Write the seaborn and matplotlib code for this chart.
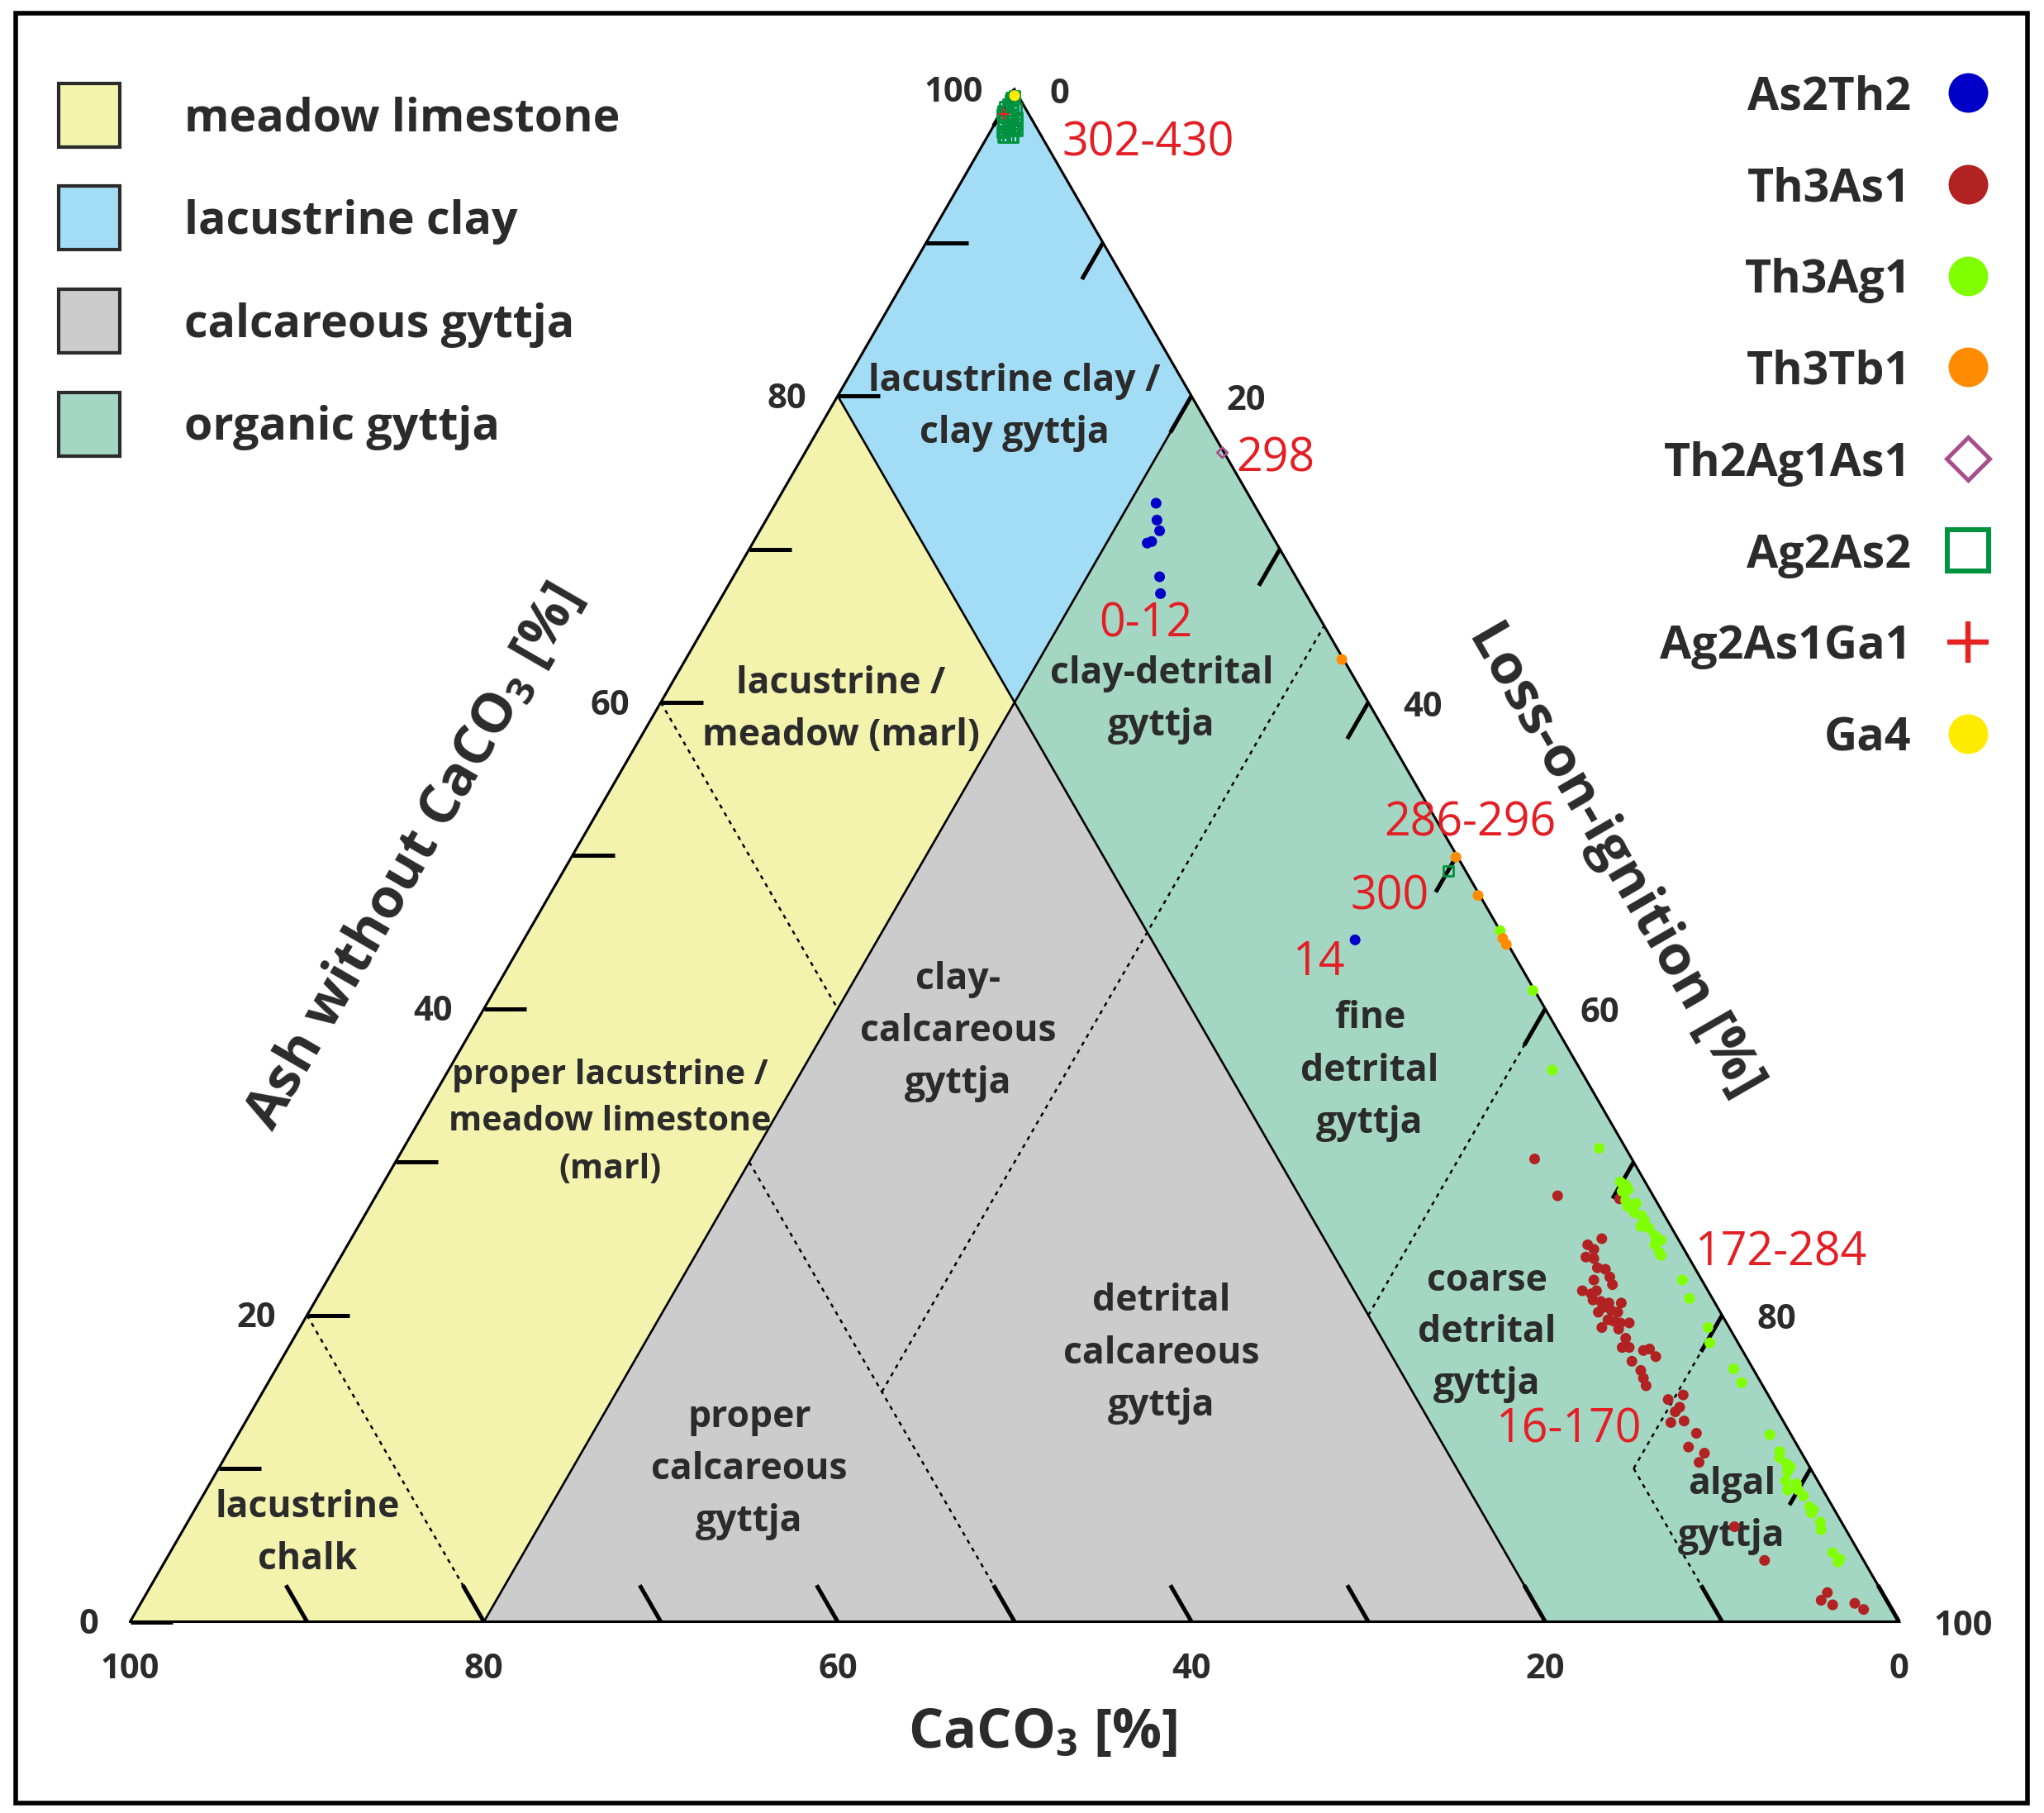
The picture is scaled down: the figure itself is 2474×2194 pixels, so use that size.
import numpy as np
import pandas as pd
import matplotlib
matplotlib.use("Agg")
import matplotlib.pyplot as plt
import seaborn as sns
from matplotlib.patches import Polygon, Rectangle

sns.set_theme(style="white")
plt.rcParams["font.family"] = ["Open Sans", "DejaVu Sans"]
plt.rcParams["mathtext.fontset"] = "custom"
plt.rcParams["mathtext.rm"] = "Open Sans:bold"
plt.rcParams["mathtext.bf"] = "Open Sans:bold"
plt.rcParams["mathtext.it"] = "Open Sans:bold"

# ---------------- data (loss-on-ignition %, CaCO3 %; ash = rest) ----------------
series_names = ["As2Th2", "Th3As1", "Th3Ag1", "Th3Tb1", "Th2Ag1As1", "Ag2As2", "Ag2As1Ga1", "Ga4"]

as2th2_loi = [21.5, 22.1, 22.6, 22.5, 22.3, 24.1, 24.7, 47.0]
as2th2_caco3 = [5.5, 6.0, 6.2, 7.0, 7.3, 7.7, 8.2, 8.5]

th3as1_loi = [64.3, 66.8, 70.4, 70.7, 70.1, 70.6, 70.4, 70.9, 71.4, 71.9,
              71.6, 72.4, 72.8, 71.3, 71.9, 72.1, 72.2, 72.7, 73.2, 73.0,
              73.6, 73.9, 72.9, 74.0, 73.7, 74.1, 74.5, 75.0, 73.6, 74.6,
              75.3, 75.4, 75.8, 76.7, 77.0, 77.6, 76.4, 77.2, 77.6, 78.0,
              80.4, 79.7, 80.6, 80.5, 81.3, 80.6, 82.4, 82.4, 83.5, 83.5,
              87.6, 90.4, 95.0, 94.9, 95.7, 96.9, 97.6]
th3as1_caco3 = [5.5, 5.4, 2.0, 4.3, 5.3, 5.1, 5.8, 5.4, 5.5, 5.1,
                6.1, 5.1, 5.2, 7.1, 6.7, 6.3, 6.8, 6.4, 6.0, 6.5,
                6.1, 5.3, 6.9, 5.8, 6.6, 6.3, 6.0, 5.5, 7.2, 6.3,
                6.2, 6.7, 6.3, 5.6, 5.2, 5.1, 6.6, 6.4, 6.5, 6.6,
                4.8, 5.8, 5.4, 5.8, 5.6, 6.4, 5.3, 6.2, 5.5, 6.1,
                6.2, 5.6, 3.1, 3.7, 3.2, 1.9, 1.6]

th3ag1_loi = [54.9, 58.7, 62.4, 67.6, 69.9, 70.3, 70.6, 70.3, 70.8, 71.1,
              71.5, 71.7, 72.2, 72.5, 72.5, 73.0, 73.6, 74.1, 73.9, 74.4,
              74.6, 76.6, 77.6, 79.6, 80.2, 82.4, 83.3, 86.6, 87.7, 87.9,
              88.5, 88.8, 88.8, 89.0, 89.7, 89.4, 90.0, 90.5, 91.2, 91.5,
              91.5, 92.3, 92.6, 94.0, 94.6, 94.6]
th3ag1_caco3 = [0.0, 0.1, 1.6, 1.5, 1.4, 1.2, 1.2, 1.6, 1.7, 1.8,
                1.2, 1.6, 1.3, 1.3, 1.7, 1.3, 1.2, 1.0, 1.5, 1.5,
                1.5, 1.1, 1.3, 1.2, 1.6, 1.1, 1.1, 1.2, 1.2, 1.4,
                1.2, 1.1, 1.4, 1.8, 1.3, 2.0, 1.4, 1.3, 1.3, 1.2,
                1.4, 1.2, 1.4, 1.5, 1.3, 1.5]

th3tb1_loi = [37.1, 50.0, 52.5, 55.3, 55.7]
th3tb1_caco3 = [0.1, 0.1, 0.1, 0.1, 0.1]

th2ag1as1_loi = [23.6]
th2ag1as1_caco3 = [0.1]

ag2as2_loi = [0.2, 0.1, 0.0, 0.1, 0.5, 0.7, 1.0, 1.4, 1.3, 1.1, 0.7, 0.6, 1.0,
              0.17, 0.07, 0.10, 0.38, 0.04, 0.32, 0.60, 0.26, 0.54, 0.82, 1.05,
              0.47, 0.75, 1.03, 1.26, 0.69, 0.97, 1.25, 1.48, 0.90, 1.18, 1.46,
              50.0]
ag2as2_caco3 = [0.2, 0.6, 1.1, 1.5, 1.8, 2.1, 2.1, 1.7, 1.3, 0.9, 0.5, 1.1, 1.6,
                0.35, 0.45, 0.85, 0.57, 1.34, 1.06, 0.78, 1.55, 1.27, 0.99, 0.76,
                1.77, 1.49, 1.21, 0.98, 1.99, 1.71, 1.43, 1.20, 2.21, 1.93, 1.65,
                1.0]

ag2as1ga1_loi = [0.2]
ag2as1ga1_caco3 = [1.4]

ga4_loi = [0.2]
ga4_caco3 = [0.2]

loi_data = [as2th2_loi, th3as1_loi, th3ag1_loi, th3tb1_loi, th2ag1as1_loi,
            ag2as2_loi, ag2as1ga1_loi, ga4_loi]
caco3_data = [as2th2_caco3, th3as1_caco3, th3ag1_caco3, th3tb1_caco3, th2ag1as1_caco3,
              ag2as2_caco3, ag2as1ga1_caco3, ga4_caco3]

sample_labels = ["302-430", "298", "0-12", "286-296", "300", "14", "172-284", "16-170"]

region_names = ["meadow limestone", "lacustrine clay", "calcareous gyttja", "organic gyttja"]
# region polygons in (CaCO3, LOI)
region_vertices = [
    [(100, 0), (80, 20), (20, 20), (20, 0)],
    [(20, 0), (20, 20), (0, 20), (0, 0)],
    [(80, 20), (20, 80), (20, 20)],
    [(20, 20), (20, 80), (0, 100), (0, 20)],
]
solid_bounds = [[(80, 20), (0, 20)], [(20, 0), (20, 80)]]
dotted_bounds = [[(80, 0), (80, 20)], [(40, 0), (40, 20)], [(50, 20), (50, 50)],
                 [(50, 35), (0, 35)], [(20, 60), (0, 60)], [(10, 80), (0, 80)],
                 [(10, 80), (10, 90)]]

tick_values = [0, 10, 20, 30, 40, 50, 60, 70, 80, 90]
label_values = [0, 20, 40, 60, 80, 100]

# ---------------- styles ----------------
region_colors = ["#F3F3AE", "#A3DCF5", "#CBCCCB", "#A4D7C3"]
series_style = {
    "As2Th2":    dict(c="#0000C8", m="o", filled=True, s=88),
    "Th3As1":    dict(c="#B22222", m="o", filled=True, s=88),
    "Th3Ag1":    dict(c="#80FF00", m="o", filled=True, s=88),
    "Th3Tb1":    dict(c="#FF8C00", m="o", filled=True, s=88),
    "Th2Ag1As1": dict(c="#A94E8C", m="D", filled=False, s=40),
    "Ag2As2":    dict(c="#00923F", m="s", filled=False, s=75),
    "Ag2As1Ga1": dict(c="#E52421", m="+", filled=False, s=110),
    "Ga4":       dict(c="#FFEB00", m="o", filled=True, s=88),
}
TXT = "#2B2B2B"
RED = "#E31E24"

W, H, DPI = 2474, 2194, 100
X0, X1, YB = 157.5, 2298.5, 1962.5
UNIT = (X1 - X0) / 100.0
SQ3 = np.sqrt(3) / 2


def tern(caco3, loi):
    caco3 = np.asarray(caco3, float)
    loi = np.asarray(loi, float)
    ash = 100.0 - caco3 - loi
    return loi + ash / 2.0, ash * SQ3


def px(xp, yp):
    return (xp - X0) / UNIT, (YB - yp) / UNIT


def pl(n):  # pixels -> data length
    return n / UNIT


fig = plt.figure(figsize=(W / DPI, H / DPI), dpi=DPI)
ax = fig.add_axes([0, 0, 1, 1])

# regions
for verts, col in zip(region_vertices, region_colors):
    c, l = zip(*verts)
    x, y = tern(c, l)
    ax.add_patch(Polygon(np.column_stack([x, y]), closed=True, fc=col, ec="none", zorder=1))

for seg in solid_bounds:
    c, l = zip(*seg)
    x, y = tern(c, l)
    ax.plot(x, y, color="black", lw=1.9, zorder=2, solid_capstyle="butt")
for seg in dotted_bounds:
    c, l = zip(*seg)
    x, y = tern(c, l)
    ax.plot(x, y, color="black", lw=1.8, ls=(0, (2.0, 2.4)), zorder=2)

# outline
x, y = tern([100, 0, 0, 100], [0, 100, 0, 0])
ax.plot(x, y, color="black", lw=2.2, zorder=3, solid_joinstyle="miter")

# ticks
TL = pl(51)
for v in tick_values:
    xs, ys = tern(100 - v, 0)
    ax.plot([xs, xs + TL], [ys, ys], color="black", lw=3.6, zorder=3, solid_capstyle="butt")
    xs, ys = tern(v, 100 - v)
    ax.plot([xs, xs - 0.5 * TL], [ys, ys + SQ3 * TL], color="black", lw=3.6, zorder=3,
            solid_capstyle="butt")
    xs, ys = tern(0, v)
    ax.plot([xs, xs - 0.5 * TL], [ys, ys - SQ3 * TL], color="black", lw=3.6, zorder=3,
            solid_capstyle="butt")

tick_font = dict(fontsize=30, fontweight="bold", color=TXT)
for v in label_values:
    xs, ys = tern(100 - v, 0)
    ax.text(xs - pl(38), ys - pl(4), str(v), ha="right", va="center", **tick_font)
    xs, ys = tern(v, 100 - v)
    ax.text(xs, ys - pl(58), str(v), ha="center", va="center", **tick_font)
    xs, ys = tern(0, v)
    ax.text(xs + pl(42), ys - pl(6), str(v), ha="left", va="center", **tick_font)

# region labels
region_labels = [
    ("lacustrine clay /\nclay gyttja", 1228, 489, 63, 32),
    ("lacustrine /\nmeadow (marl)", 1018, 855, 63, 32),
    ("clay-detrital\ngyttja", 1406, 843, 63, 32),
    ("clay-\ncalcareous\ngyttja", 1160, 1245, 63, 32),
    ("proper lacustrine /\nmeadow limestone\n(marl)", 738, 1354, 57, 29.5),
    ("fine\ndetrital\ngyttja", 1658, 1292, 63, 32),
    ("lacustrine\nchalk", 372, 1852, 63, 32),
    ("proper\ncalcareous\ngyttja", 907, 1775, 63, 32),
    ("detrital\ncalcareous\ngyttja", 1406, 1634, 63, 32),
    ("coarse\ndetrital\ngyttja", 1800, 1609, 63, 32),
    ("algal\ngyttja", 2096, 1824, 63, 32),
]
for txt, xp, yp, gap, fs in region_labels:
    lines = txt.split("\n")
    n = len(lines)
    for i, line in enumerate(lines):
        yy = yp + (i - (n - 1) / 2) * gap + 4
        ax.text(*px(xp, yy), line, ha="center", va="center", fontsize=fs,
                fontweight="bold", color=TXT, zorder=5)

# data points
for name, loi, cc in zip(series_names, loi_data, caco3_data):
    st = series_style[name]
    xs, ys = tern(cc, loi)
    df = pd.DataFrame({"x": xs, "y": ys})
    if st["filled"]:
        sns.scatterplot(data=df, x="x", y="y", ax=ax, marker=st["m"], s=st["s"],
                        color=st["c"], edgecolor="none", linewidth=0, zorder=6, legend=False)
    elif st["m"] == "+":
        sns.scatterplot(data=df, x="x", y="y", ax=ax, marker="+", s=st["s"],
                        color=st["c"], linewidth=1.6, zorder=6, legend=False)
    else:
        sns.scatterplot(data=df, x="x", y="y", ax=ax, marker=st["m"], s=st["s"],
                        color=st["c"], facecolor="none", edgecolor=st["c"],
                        linewidth=2.0, zorder=6, legend=False)
ax.set_xlabel("")
ax.set_ylabel("")
ax.set_xlim(px(0, 0)[0], px(W, 0)[0])
ax.set_ylim(px(0, H)[1], px(0, 0)[1])
ax.set_aspect("equal")
ax.axis("off")

# sample-range annotations
ann_pos = [(1286, 168), (1496, 550), (1330, 750), (1675, 991), (1635, 1080),
           (1564, 1160), (2051, 1511), (1810, 1725)]
for lab, (xp, yp) in zip(sample_labels, ann_pos):
    ax.text(*px(xp, yp + 6), lab, ha="left", va="center", fontsize=40, color=RED, zorder=7)

# axis titles
ax.text(*px(501, 1038), "Ash without CaCO$_3$ [%]", rotation=60, ha="center", va="center",
        fontsize=48, fontweight="bold", color=TXT, rotation_mode="anchor")
ax.text(*px(1956, 1040), "Loss-on-ignition [%]", rotation=-60, ha="center", va="center",
        fontsize=48, fontweight="bold", color=TXT, rotation_mode="anchor")
ax.text(*px(1262, 2098), "CaCO$_3$ [%]", ha="center", va="center",
        fontsize=48, fontweight="bold", color=TXT)

# left legend (region colours)
for i, (nm, col) in enumerate(zip(region_names, region_colors)):
    top = 101 + 124.5 * i
    x0, y0 = px(71, top + 77)
    ax.add_patch(Rectangle((x0, y0), pl(74), pl(77), fc=col, ec="#2B2B2B", lw=3,
                           zorder=8, clip_on=False))
    ax.text(*px(223, top + 43), nm, ha="left", va="center", fontsize=40,
            fontweight="bold", color=TXT, zorder=8)

# right legend (series)
for i, name in enumerate(series_names):
    st = series_style[name]
    yp = 112 + 110.8 * i
    ax.text(*px(2313, yp + 6), name, ha="right", va="center", fontsize=40,
            fontweight="bold", color=TXT, zorder=8)
    mx, my = px(2382, yp)
    if st["m"] == "o":
        ax.plot([mx], [my], marker="o", ms=34.5, mfc=st["c"], mec="none", ls="none",
                clip_on=False, zorder=8)
    elif st["m"] == "D":
        ax.plot([mx], [my], marker="D", ms=26, mfc="none", mec=st["c"], mew=3.6,
                ls="none", clip_on=False, zorder=8)
    elif st["m"] == "s":
        ax.plot([mx], [my], marker="s", ms=36, mfc="none", mec=st["c"], mew=4.3,
                ls="none", clip_on=False, zorder=8)
    else:
        ax.plot([mx], [my], marker="+", ms=36, mec=st["c"], mew=4.6,
                ls="none", clip_on=False, zorder=8)

# figure border
bx0, by0 = px(19, 2182)
ax.add_patch(Rectangle((bx0, by0), pl(2435), pl(2166), fc="none", ec="black", lw=4,
                       zorder=9, clip_on=False))

fig.savefig("out.png", dpi=DPI)
